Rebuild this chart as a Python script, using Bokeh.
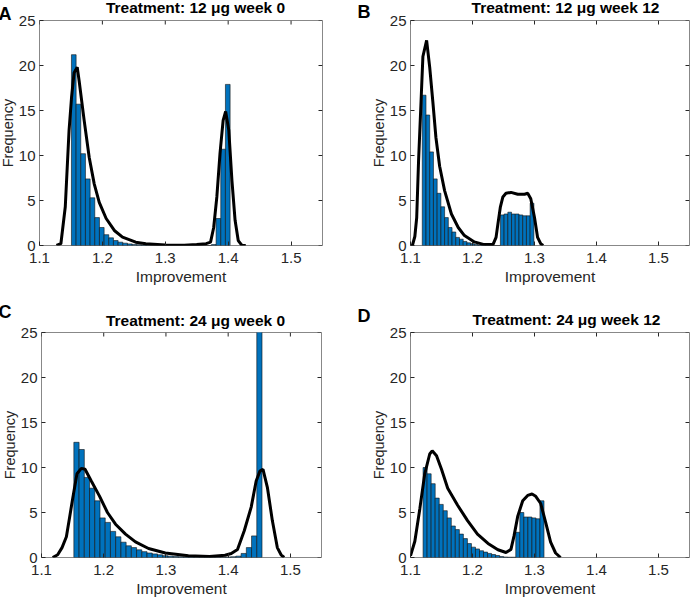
from bokeh.plotting import figure
from bokeh.models import Range1d, FixedTicker, Label, ColumnDataSource
from bokeh.layouts import column, row
from bokeh.embed import file_html
from bokeh.resources import INLINE

# ---------------- data ----------------
x_ticks = [1.1, 1.2, 1.3, 1.4, 1.5]
y_ticks = [0, 5, 10, 15, 20, 25]

A_title = "Treatment: 12 μg week 0"
A_start = 1.1508
A_width = 0.00742
A_heights = [21.2, 15.7, 10.2, 7.4, 5.3, 3.1, 2.0, 1.2, 0.85, 0.55, 0.37, 0.26, 0.18, 0.12,
             0.08, 0.05, 0.03, 0, 0, 0, 0, 0, 0, 0, 0, 0, 0, 0, 0, 0, 0.1, 3.0, 10.7, 17.9]
A_curve_x = [1.127, 1.134, 1.141, 1.147, 1.151, 1.155, 1.160, 1.163, 1.171, 1.179, 1.187, 1.195,
             1.206, 1.219, 1.232, 1.253, 1.269, 1.300, 1.330, 1.350, 1.365, 1.372, 1.377, 1.382,
             1.387, 1.392, 1.396, 1.401, 1.406, 1.411, 1.416, 1.422, 1.428]
A_curve_y = [0, 0.2, 4.3, 12.8, 16.5, 19.2, 19.8, 18.3, 13.9, 9.8, 6.85, 4.8,
             3.0, 1.67, 0.93, 0.37, 0.2, 0.05, 0.03, 0.1, 0.2, 0.37, 2.0, 5.4,
             10.2, 13.9, 14.9, 12.8, 7.2, 2.8, 0.55, 0.0, 0.0]

B_title = "Treatment: 12 μg week 12"
B_start = 1.119
B_width = 0.006
B_heights = [16.7, 14.5, 10.4, 7.4, 5.8, 4.3, 3.1, 2.0, 1.5, 0.9, 0.7, 0.45, 0.3, 0.2, 0.1,
             0.05, 0.03, 0.02, 0, 0, 0, 3.4, 3.5, 3.7, 3.5, 3.5, 3.4, 3.3, 3.3, 4.7]
B_curve_x = [1.103, 1.107, 1.110, 1.113, 1.117, 1.120, 1.126, 1.131, 1.136, 1.141, 1.147, 1.155,
             1.166, 1.177, 1.187, 1.203, 1.219, 1.233, 1.238, 1.241, 1.245, 1.249, 1.254, 1.262,
             1.273, 1.284, 1.289, 1.294, 1.300, 1.305, 1.310, 1.314]
B_curve_y = [0, 1.0, 3.1, 9.4, 16.0, 21.0, 22.8, 19.8, 16.0, 12.0, 8.8, 6.1,
             3.5, 2.0, 1.1, 0.4, 0.1, 0.1, 0.9, 2.4, 4.3, 5.4, 5.8, 5.9,
             5.7, 5.7, 5.8, 5.2, 3.1, 0.9, 0.2, 0]

C_title = "Treatment: 24 μg week 0"
C_start = 1.152
C_width = 0.0084
C_heights = [12.8, 12.0, 8.9, 7.7, 6.3, 4.4, 3.9, 2.9, 2.3, 1.7, 1.3, 1.1, 0.85, 0.65, 0.5,
             0.4, 0.3, 0.2, 0.15, 0.1, 0.08, 0.06, 0.05, 0.04, 0.03, 0.03, 0.03, 0.03, 0.03,
             0.05, 0.08, 0.15, 0.45, 1.1, 2.4, 27]
C_curve_x = [1.118, 1.126, 1.133, 1.140, 1.145, 1.150, 1.157, 1.164, 1.170, 1.180, 1.193, 1.206,
             1.219, 1.235, 1.251, 1.272, 1.299, 1.336, 1.370, 1.395, 1.405, 1.415, 1.426, 1.437,
             1.445, 1.451, 1.456, 1.463, 1.471, 1.479, 1.485, 1.490]
C_curve_y = [0, 0.3, 1.1, 2.3, 4.4, 6.5, 9.3, 9.9, 9.8, 8.5, 6.85, 5.0,
             3.7, 2.6, 1.74, 1.0, 0.5, 0.2, 0.1, 0.25, 0.45, 0.9, 3.0, 5.6,
             8.5, 9.6, 9.8, 7.8, 4.1, 1.1, 0.3, 0.0]

D_title = "Treatment: 24 μg week 12"
D_start = 1.1203
D_width = 0.0065
D_heights = [10.0, 9.3, 8.2, 6.6, 5.9, 5.2, 4.4, 3.5, 3.1, 2.6, 2.1, 1.55, 1.15, 0.95, 0.75,
             0.6, 0.45, 0.33, 0.22, 0.1, 0.05, 0.03, 0.03, 2.8, 5.0, 4.5, 4.5, 4.4, 4.3, 6.3]
D_curve_x = [1.100, 1.107, 1.115, 1.123, 1.131, 1.135, 1.142, 1.150, 1.160, 1.176, 1.192, 1.208,
             1.225, 1.241, 1.254, 1.262, 1.267, 1.273, 1.281, 1.289, 1.296, 1.302, 1.310, 1.318,
             1.326, 1.334, 1.342]
D_curve_y = [0.2, 1.8, 5.4, 9.3, 11.5, 11.85, 11.3, 9.8, 7.7, 5.8, 4.1, 2.6,
             1.56, 0.86, 0.56, 0.9, 2.4, 4.6, 6.3, 6.9, 7.05, 6.8, 6.0, 3.9,
             1.7, 0.5, 0.0]

# ---------------- style ----------------
FONT = "Liberation Sans"
BAR = "#0072BD"
TXT = "#262626"
FRAME = "#888888"
X0, X1 = 1.1, 1.55
Y0, Y1 = 0, 25
TICK = 4
PAGE_W = 699
STRIP_EXTRA = 20   # strips reach this far down behind the (transparent) panels
TEXT_SHIFT = 7     # measured downward offset of Bokeh's label baseline


def make_panel(start, width, heights, cx, cy, fw, fh, bl, bt, br, bb):
    p = figure(title=None, frame_width=fw, frame_height=fh,
               x_range=Range1d(X0, X1), y_range=Range1d(Y0, Y1),
               output_backend="svg", toolbar_location=None,
               min_border_left=bl, min_border_top=bt,
               min_border_right=br, min_border_bottom=bb)
    p.grid.visible = False
    p.outline_line_color = FRAME
    p.outline_line_width = 1
    p.background_fill_color = None
    p.border_fill_color = None

    lefts = [start + i * width for i in range(len(heights))]
    rights = [start + (i + 1) * width for i in range(len(heights))]
    src = ColumnDataSource(dict(left=lefts, right=rights, top=heights,
                                bottom=[0] * len(heights)))
    p.quad(left="left", right="right", top="top", bottom="bottom", source=src,
           fill_color=BAR, line_color="#111111", line_width=0.6)
    p.line(cx, cy, line_color="black", line_width=3)

    # mirrored inward ticks on the top and right edges of the box
    dx = (X1 - X0) * TICK / fw
    dy = (Y1 - Y0) * TICK / fh
    p.segment(x0=x_ticks, x1=x_ticks, y0=[Y1] * len(x_ticks), y1=[Y1 - dy] * len(x_ticks),
              line_color=TXT, line_width=1)
    p.segment(x0=[X1] * len(y_ticks), x1=[X1 - dx] * len(y_ticks), y0=y_ticks, y1=y_ticks,
              line_color=TXT, line_width=1)

    p.xaxis.ticker = FixedTicker(ticks=x_ticks)
    p.yaxis.ticker = FixedTicker(ticks=y_ticks)
    for ax in p.axis:
        ax.major_tick_in = TICK
        ax.major_tick_out = 0
        ax.minor_tick_line_color = None
        ax.axis_line_color = None
        ax.major_tick_line_color = TXT
        ax.major_label_text_font = FONT
        ax.major_label_text_font_size = "15px"
        ax.major_label_text_color = TXT
        ax.axis_label_text_font = FONT
        ax.axis_label_text_font_style = "normal"
        ax.axis_label_text_color = TXT
    p.xaxis.axis_label_text_font_size = "15.5px"
    p.yaxis.axis_label_text_font_size = "14.5px"
    p.xaxis.axis_label_standoff = 2
    p.yaxis.axis_label_standoff = 0
    p.xaxis.major_label_standoff = 7
    p.yaxis.major_label_standoff = 4
    p.xaxis.axis_label = "Improvement"
    p.yaxis.axis_label = "Frequency"
    return p


def make_strip(h, items):
    # a transparent strip behind the top of a row of panels carrying letters and titles
    H = h + STRIP_EXTRA
    s = figure(title=None, width=PAGE_W, height=H,
               x_range=Range1d(0, PAGE_W), y_range=Range1d(H, 0),
               x_axis_type=None, y_axis_type=None, output_backend="svg",
               toolbar_location=None, min_border=0)
    s.grid.visible = False
    s.outline_line_color = None
    s.background_fill_color = None
    s.border_fill_color = None
    for text, x, y, size, align in items:
        s.add_layout(Label(x=x, y=y - TEXT_SHIFT, text=text, text_align=align,
                           text_baseline="alphabetic",
                           text_font=FONT, text_font_size=size, text_font_style="bold",
                           text_color="black"))
    return s


strip1 = make_strip(20, [("A", 4, 20, "18px", "left"),
                         (A_title, 201, 14, "15.5px", "center"),
                         ("B", 363, 18, "18px", "left"),
                         (B_title, 571, 14, "15.5px", "center")])
strip2 = make_strip(32, [("C", 4, 18, "18px", "left"),
                         (C_title, 201, 27, "15.5px", "center"),
                         ("D", 363, 22, "18px", "left"),
                         (D_title, 572, 26, "15.5px", "center")])

pA = make_panel(A_start, A_width, A_heights, A_curve_x, A_curve_y, 283, 225, 45, 20, 22, 55)
pB = make_panel(B_start, B_width, B_heights, B_curve_x, B_curve_y, 279, 225, 66, 20, 4, 55)
pC = make_panel(C_start, C_width, C_heights, C_curve_x, C_curve_y, 280, 225, 47, 32, 23, 48)
pD = make_panel(D_start, D_width, D_heights, D_curve_x, D_curve_y, 279, 225, 66, 32, 4, 48)

row1 = row(pA, pB, styles={"margin-top": "-%dpx" % (20 + STRIP_EXTRA)})
row2 = row(pC, pD, styles={"margin-top": "-%dpx" % (32 + STRIP_EXTRA)})

layout = column(strip1, row1, strip2, row2,
                styles={"margin-left": "-6px", "margin-top": "0px", "margin-bottom": "-16px"})

open("out.html", "w").write(file_html(layout, INLINE))
